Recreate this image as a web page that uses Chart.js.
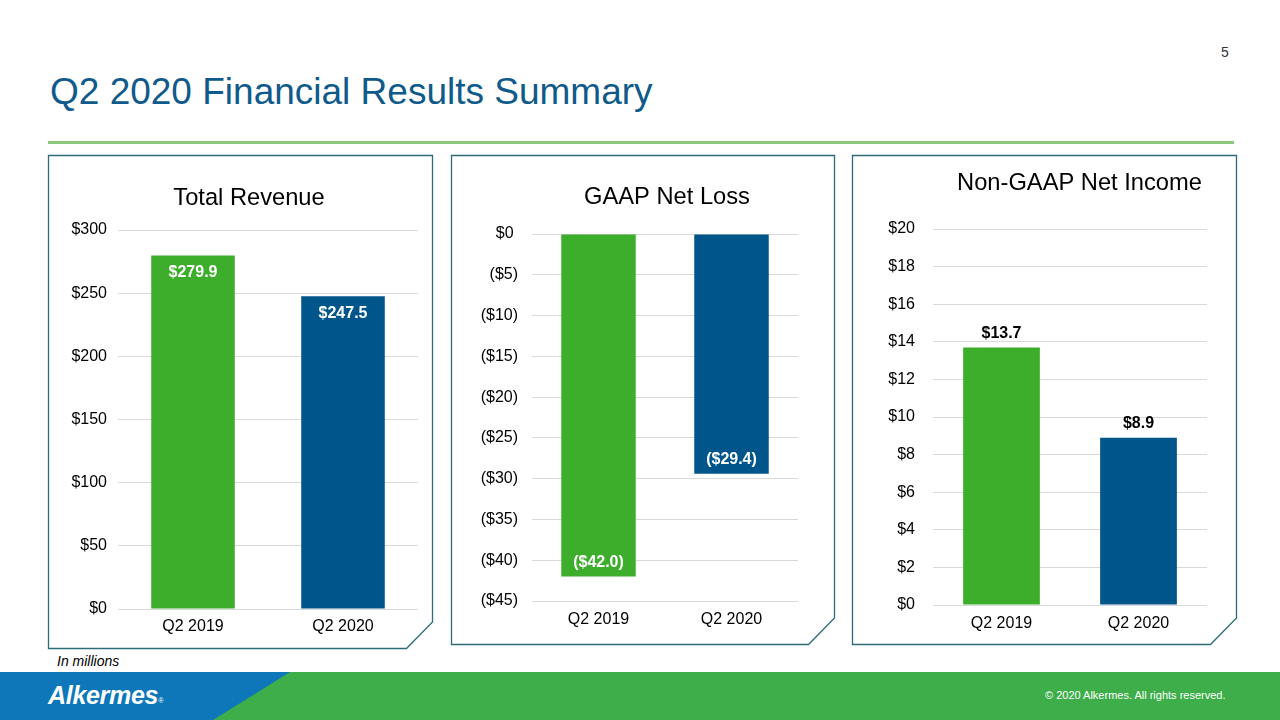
<!DOCTYPE html>
<html>
<head>
<meta charset="utf-8">
<script src="https://cdn.jsdelivr.net/npm/chart.js@4.4.1/dist/chart.umd.min.js"></script>
<style>
html,body{margin:0;padding:0;width:1280px;height:720px;overflow:hidden;background:#fff;font-family:"Liberation Sans",Arial,sans-serif;}
#stage{position:relative;width:1280px;height:720px;}
.abs{position:absolute;}
#title{left:50px;top:73px;font-size:37px;line-height:37px;color:#0F5A8B;white-space:nowrap;}
#pnum{left:1221px;top:45px;font-size:14px;line-height:14px;color:#333;}
#rule{left:48px;top:141px;width:1186px;height:3px;background:#8CC87B;}
#units{left:57px;top:654px;font-size:14px;line-height:14px;font-style:italic;color:#000;}
#logo{left:48px;top:683px;font-size:25px;line-height:25px;font-style:italic;font-weight:bold;color:#fff;letter-spacing:-0.3px;}
#logo sup{font-size:7px;font-weight:normal;vertical-align:top;position:relative;top:5px;}
#copy{left:1045px;top:690px;font-size:11px;line-height:11px;color:#fff;white-space:nowrap;}
</style>
</head>
<body>
<div id="stage">
  <svg class="abs" style="left:0;top:0" width="1280" height="720">
    <polygon points="48.5,155.5 432.5,155.5 432.5,622 406.5,648.5 48.5,648.5" fill="none" stroke="#2C6B79" stroke-width="1.3"/>
    <polygon points="451.5,155.5 834.5,155.5 834.5,618 808.5,644.5 451.5,644.5" fill="none" stroke="#2C6B79" stroke-width="1.3"/>
    <polygon points="852.5,155.5 1236.5,155.5 1236.5,618 1210.5,644.5 852.5,644.5" fill="none" stroke="#2C6B79" stroke-width="1.3"/>
    <rect x="0" y="672" width="1280" height="48" fill="#3DAE49"/>
    <polygon points="0,672 290,672 213,720 0,720" fill="#0E77BA"/>
  </svg>
  <div id="title" class="abs">Q2 2020 Financial Results Summary</div>
  <div id="pnum" class="abs">5</div>
  <div id="rule" class="abs"></div>
  <canvas id="c1" class="abs" width="384" height="493" style="left:48px;top:155px"></canvas>
  <canvas id="c2" class="abs" width="404" height="489" style="left:451px;top:155px"></canvas>
  <canvas id="c3" class="abs" width="421" height="489" style="left:852px;top:155px"></canvas>
  <div id="units" class="abs">In millions</div>
  <div id="logo" class="abs">Alkermes<sup>®</sup></div>
  <div id="copy" class="abs">© 2020 Alkermes. All rights reserved.</div>
</div>
<script>
// ---- data ----
const categories = ['Q2 2019', 'Q2 2020'];

const revenueValues = [279.9, 247.5];
const revenueTickValues = [0, 50, 100, 150, 200, 250, 300];
const revenueTickLabels = ['$0', '$50', '$100', '$150', '$200', '$250', '$300'];

const netLossValues = [-42.0, -29.4];
const netLossTickValues = [-45, -40, -35, -30, -25, -20, -15, -10, -5, 0];
const netLossTickLabels = ['($45)', '($40)', '($35)', '($30)', '($25)', '($20)', '($15)', '($10)', '($5)', '$0 '];

const nonGaapValues = [13.7, 8.9];
const nonGaapTickValues = [0, 2, 4, 6, 8, 10, 12, 14, 16, 18, 20];
const nonGaapTickLabels = ['$0', '$2', '$4', '$6', '$8', '$10', '$12', '$14', '$16', '$18', '$20'];

// ---- styling ----
const FONT = '"Liberation Sans", Arial, sans-serif';
const barColors = ['#3DAE2B', '#00558B'];

function fmt(v) {
  return v < 0 ? '($' + (-v).toFixed(1) + ')' : '$' + v.toFixed(1);
}

const valueLabelsPlugin = {
  id: 'valueLabels',
  afterDatasetsDraw(chart, args, opts) {
    const ctx = chart.ctx;
    const ds = chart.data.datasets[0];
    chart.getDatasetMeta(0).data.forEach((bar, i) => {
      const v = ds.data[i];
      const up = bar.y < bar.base ? 1 : -1;
      const y = opts.inside ? bar.y + up * opts.offset : bar.y - up * opts.offset;
      ctx.save();
      ctx.font = 'bold 16px ' + FONT;
      ctx.fillStyle = opts.color;
      ctx.textAlign = 'center';
      ctx.textBaseline = 'middle';
      ctx.fillText(fmt(v), bar.x, y);
      ctx.restore();
    });
  }
};

function makeChart(id, cfg) {
  return new Chart(document.getElementById(id), {
    type: 'bar',
    data: {
      labels: categories,
      datasets: [{
        data: cfg.values,
        backgroundColor: barColors,
        borderWidth: 0,
        barPercentage: cfg.barPct,
        categoryPercentage: 1
      }]
    },
    options: {
      responsive: false,
      animation: false,
      layout: { padding: { left: cfg.padL, right: 0, top: 0, bottom: 0 } },
      plugins: {
        legend: { display: false },
        tooltip: { enabled: false },
        title: {
          display: true,
          text: cfg.title,
          color: '#000',
          font: { family: FONT, size: 23.7, weight: 'normal', lineHeight: 1.2 },
          padding: { top: cfg.titleTop, bottom: cfg.titleBottom }
        },
        valueLabels: { inside: cfg.inside, offset: cfg.labelOffset, color: cfg.labelColor }
      },
      scales: {
        x: {
          grid: { display: false, drawTicks: false },
          border: { display: false },
          ticks: { color: '#000', font: { family: FONT, size: 16, lineHeight: 1.2 }, padding: cfg.xPad },
          afterFit(s) { s.height = cfg.xH; }
        },
        y: {
          min: cfg.min, max: cfg.max,
          grid: { color: '#D9D9D9', lineWidth: 1, drawTicks: false },
          border: { display: false },
          ticks: {
            color: '#000', font: { family: FONT, size: 16 }, padding: cfg.yPad,
            callback: (v, i) => cfg.tickLabels[i]
          },
          afterBuildTicks(s) { s.ticks = cfg.tickValues.map(v => ({ value: v })); },
          afterFit(s) { s.width = cfg.yW; }
        },
        yR: {
          position: 'right', display: true,
          grid: { display: false, drawTicks: false },
          border: { display: false },
          ticks: { display: false },
          afterFit(s) { s.width = cfg.rW; }
        }
      }
    },
    plugins: [valueLabelsPlugin]
  });
}

makeChart('c1', {
  title: 'Total Revenue', values: revenueValues,
  min: 0, max: 300, tickValues: revenueTickValues, tickLabels: revenueTickLabels,
  padL: 18, yW: 52, rW: 14, yPad: 11, xH: 39, xPad: 7.5,
  titleTop: 29, titleBottom: 17.56, barPct: 0.557,
  inside: true, labelOffset: 17, labelColor: '#fff'
});

makeChart('c2', {
  title: 'GAAP Net Loss', values: netLossValues,
  min: -45, max: 0, tickValues: netLossTickValues, tickLabels: netLossTickLabels,
  padL: 28, yW: 53, rW: 57, yPad: 14, xH: 43, xPad: 8.5,
  titleTop: 28.2, titleBottom: 22.36, barPct: 0.56,
  inside: true, labelOffset: 14, labelColor: '#fff'
});

makeChart('c3', {
  title: 'Non-GAAP Net Income', values: nonGaapValues,
  min: 0, max: 20, tickValues: nonGaapTickValues, tickLabels: nonGaapTickLabels,
  padL: 34, yW: 47, rW: 66, yPad: 18, xH: 39, xPad: 8.5,
  titleTop: 14.2, titleBottom: 31.36, barPct: 0.56,
  inside: false, labelOffset: 14, labelColor: '#000'
});
</script>
</body>
</html>
